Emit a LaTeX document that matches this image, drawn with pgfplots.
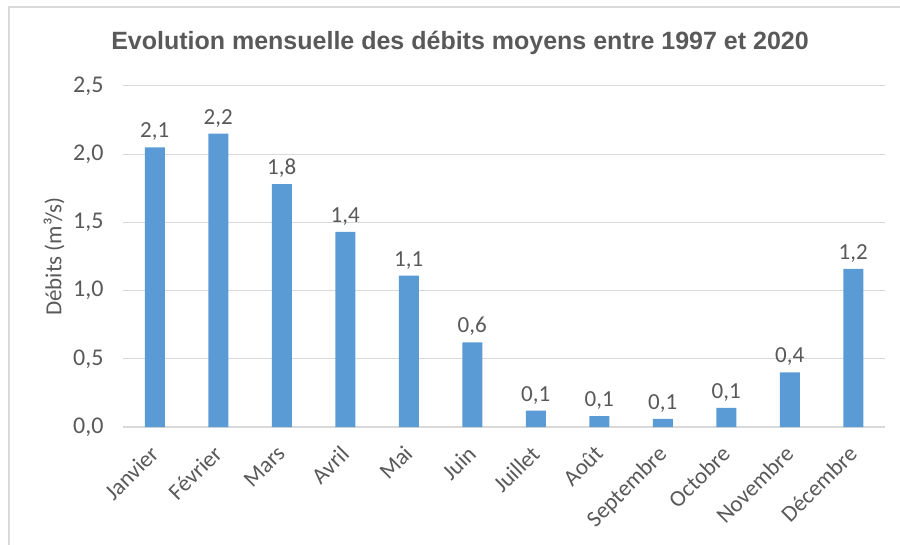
\documentclass[border=0pt]{standalone}
\usepackage{pgfplots}
\pgfplotsset{compat=1.18}
\usepackage{pgfplotstable}
\usepackage{fontspec}
\setmainfont{Carlito}
\newfontfamily\titlefont{Liberation Sans}
\definecolor{txt}{HTML}{595959}
\definecolor{barblue}{HTML}{5B9BD5}
\definecolor{gridc}{HTML}{D9D9D9}
\pgfplotstableread{
x y lab
0 2.05 2,1
1 2.15 2,2
2 1.78 1,8
3 1.43 1,4
4 1.11 1,1
5 0.62 0,6
6 0.12 0,1
7 0.08 0,1
8 0.06 0,1
9 0.14 0,1
10 0.40 0,4
11 1.16 1,2
}\debits
\begin{document}
\begin{tikzpicture}[x=1pt,y=1pt]
\path[use as bounding box] (0,0) rectangle (900,544);
\draw[gridc, line width=1.2pt] (9,-10) -- (9,537) -- (910,537);
\node[font=\titlefont\bfseries\fontsize{25}{29}\selectfont, text=txt] at (460,501) {Evolution mensuelle des débits moyens entre 1997 et 2020};
\begin{axis}[
  at={(123pt,117pt)}, anchor=south west,
  scale only axis, width=762pt, height=341pt,
  xmin=-0.5, xmax=11.5, ymin=0, ymax=2.5,
  ytick={0,0.5,...,2.5},
  xtick={0,...,11},
  xticklabels={Janvier,Février,Mars,Avril,Mai,Juin,Juillet,Août,Septembre,Octobre,Novembre,Décembre},
  xticklabel style={font=\fontsize{23}{27}\selectfont, text=txt, xshift=-6pt, yshift=-17pt, rotate=45, anchor=north east, inner sep=0pt},
  yticklabel style={font=\fontsize{24}{28}\selectfont, text=txt, xshift=-16pt, /pgf/number format/.cd, fixed, fixed zerofill, precision=1, use comma, assume math mode=true},
  ylabel={Débits (m³/s)},
  ylabel style={font=\fontsize{23}{27}\selectfont, text=txt, at={(axis description cs:0,0.5)}, anchor=center, rotate=0, yshift=69pt},
  axis x line*=bottom, axis y line*=left,
  y axis line style={draw=none},
  x axis line style={draw=gridc, line width=1.5pt, -},
  major tick length=0pt,
  ymajorgrids, xmajorgrids=false, grid style={draw=gridc, line width=1pt},
  clip=false,
]
\addplot[ybar, bar width=20pt, fill=barblue, draw=none,
  point meta=explicit symbolic,
  nodes near coords={\pgfplotspointmeta},
  every node near coord/.append style={font=\fontsize{23}{27}\selectfont, text=txt, anchor=south, yshift=3pt}]
  table[x=x, y=y, meta=lab] {\debits};
\end{axis}
\end{tikzpicture}
\end{document}
